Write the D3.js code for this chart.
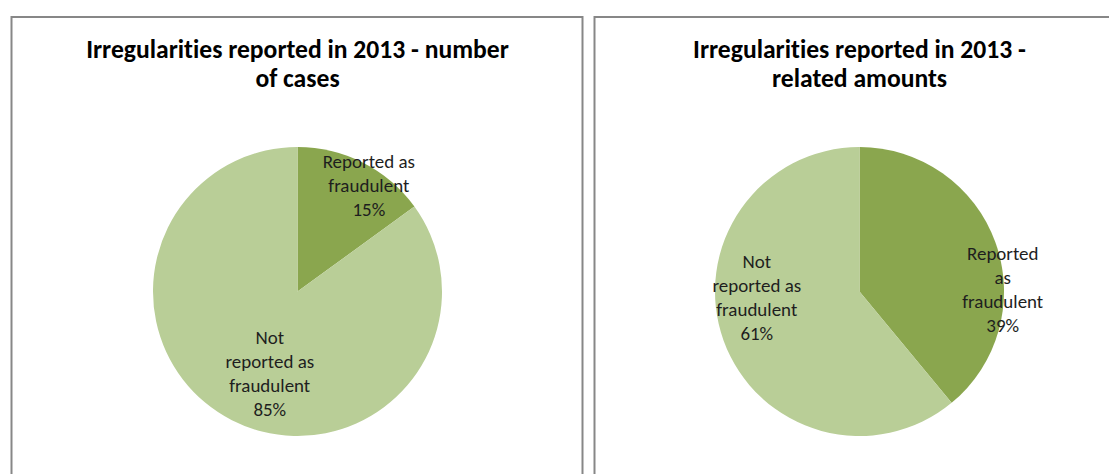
<!DOCTYPE html>
<html>
<head>
<meta charset="utf-8">
<script src="https://cdn.jsdelivr.net/npm/d3@7"></script>
<style>
  html, body { margin: 0; padding: 0; background: #fff; }
  svg { display: block; }
  text { font-variant-ligatures: none; font-feature-settings: "liga" 0, "clig" 0; }
</style>
</head>
<body>
<svg id="chart" width="1109" height="474"></svg>
<script>
// ---- data ----
const categories = ["Reported as fraudulent", "Not reported as fraudulent"];
const casesValues = [15, 85];
const amountValues = [39, 61];
const titleCases = ["Irregularities reported in 2013 - number", "of cases"];
const titleAmounts = ["Irregularities reported in 2013 -", "related amounts"];
const labelLinesCases = [["Reported as", "fraudulent"], ["Not", "reported as", "fraudulent"]];
const labelLinesAmounts = [["Reported", "as", "fraudulent"], ["Not", "reported as", "fraudulent"]];

// ---- styling / layout ----
const colors = ["#8aa64e", "#b9ce97"];
const fontFamily = "Carlito, Lato, 'Liberation Sans', sans-serif";
const W = 1109, H = 474;
const svg = d3.select("#chart");

const panels = [
  { x0: 11.5, x1: 582.5, cx: 297.5, values: casesValues, title: titleCases, lines: labelLinesCases,
    place: [[35.7, 0.846], [197.4, 0.642]] },
  { x0: 594.5, x1: 1160, cx: 859.5, values: amountValues, title: titleAmounts, lines: labelLinesAmounts,
    place: [[91.8, 0.992], [263.2, 0.716]] }
];
const cy = 291.5, radius = 144.5, panelTop = 17;

// measure text to fit the fallback font to the original metrics
function measure(txt, size, weight) {
  const t = svg.append("text").attr("font-family", fontFamily).attr("font-size", size)
    .attr("font-weight", weight).text(txt);
  const w = t.node().getComputedTextLength();
  t.remove();
  return w;
}
const labelSize = 100 * 81 / measure("fraudulent", 100, "normal");
const titleSize = 100 * 423 / measure(titleCases[0], 100, "bold");

const pie = d3.pie().sort(null).value(d => d);
const arc = d3.arc().innerRadius(0).outerRadius(radius);
const pct = d3.format(".0f");

panels.forEach(p => {
  // panel border
  svg.append("rect")
    .attr("x", p.x0).attr("y", panelTop)
    .attr("width", p.x1 - p.x0).attr("height", H + 40)
    .attr("fill", "#fff").attr("stroke", "#878787").attr("stroke-width", 2);

  // title
  const title = svg.append("text")
    .attr("text-anchor", "middle")
    .attr("font-family", fontFamily).attr("font-weight", "bold")
    .attr("font-size", titleSize).attr("fill", "#000");
  p.title.forEach((line, i) => {
    title.append("tspan").attr("x", p.cx).attr("y", 58 + i * 29).text(line);
  });

  const g = svg.append("g").attr("transform", `translate(${p.cx},${cy})`);
  const arcs = pie(p.values);
  g.selectAll("path").data(arcs).enter().append("path")
    .attr("d", arc)
    .attr("fill", (d, i) => colors[i]);

  // labels
  arcs.forEach((d, i) => {
    const [angDeg, rf] = p.place[i];
    const a = angDeg * Math.PI / 180;
    const lx = Math.sin(a) * radius * rf;
    const ly = -Math.cos(a) * radius * rf;
    const lines = p.lines[i].concat([pct(d.data) + "%"]);
    const lh = 24;
    const t = g.append("text")
      .attr("text-anchor", "middle")
      .attr("font-family", fontFamily)
      .attr("font-size", labelSize).attr("fill", "#1e1e1e");
    lines.forEach((ln, k) => {
      t.append("tspan").attr("x", lx)
        .attr("y", ly + (k - (lines.length - 1) / 2) * lh)
        .text(ln);
    });
  });
});
</script>
</body>
</html>
